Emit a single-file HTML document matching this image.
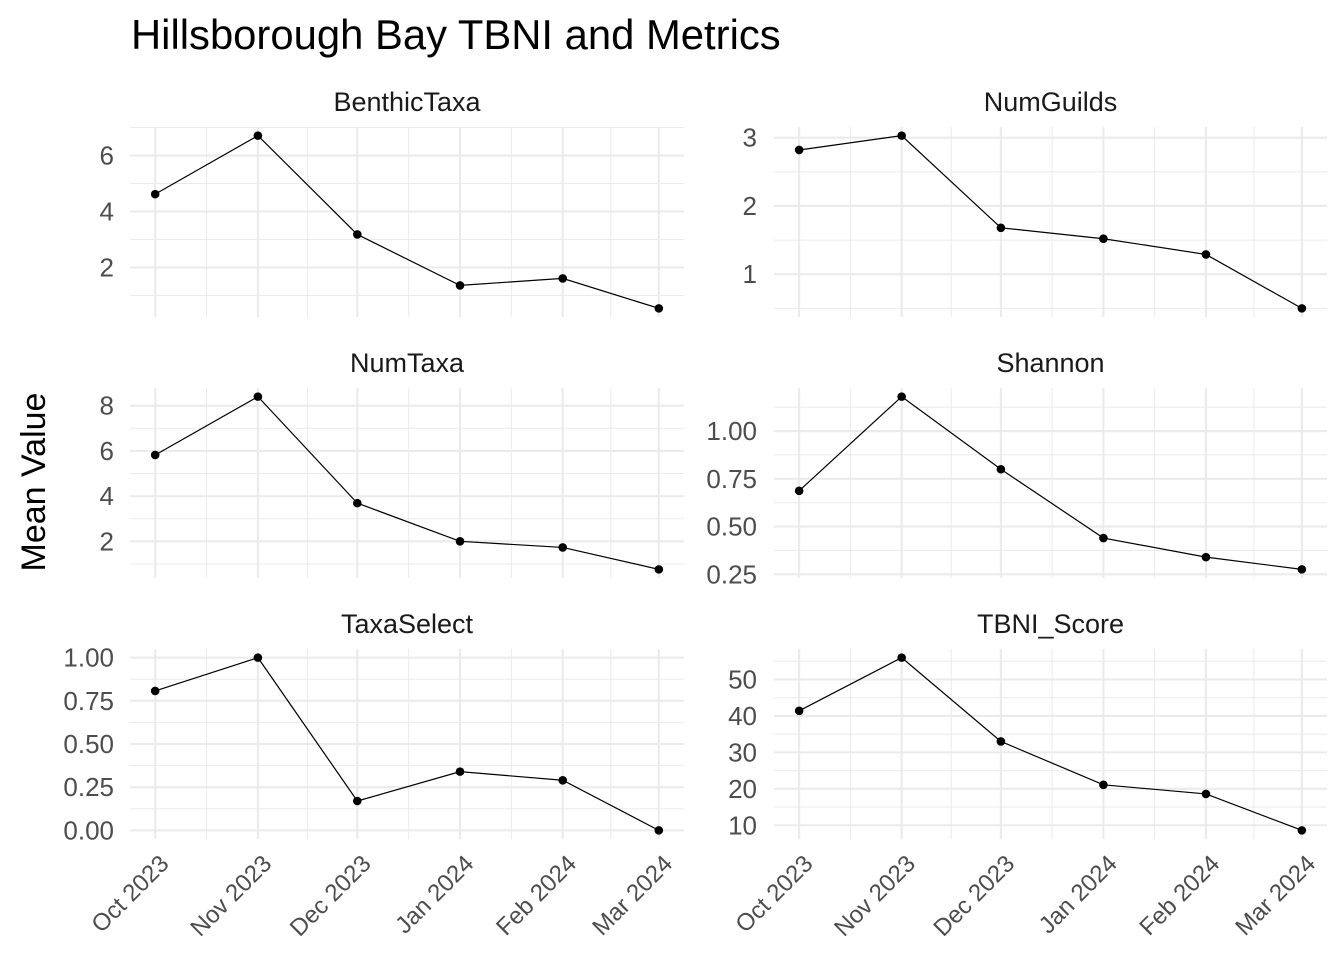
<!DOCTYPE html>
<html><head><meta charset="utf-8"><style>
body{margin:0;background:#fff}
svg text{font-family:"Liberation Sans",Arial,sans-serif}
</style></head><body>
<svg id="chart" width="1344" height="960" xmlns="http://www.w3.org/2000/svg">
<rect width="1344" height="960" fill="#fff"/>
<text x="131" y="49" font-size="41.8" fill="#000">Hillsborough Bay TBNI and Metrics</text>
<text transform="translate(45,482) rotate(-90)" text-anchor="middle" font-size="34" fill="#000">Mean Value</text>
</svg>
<script>
const months = ["Oct 2023","Nov 2023","Dec 2023","Jan 2024","Feb 2024","Mar 2024"];
const monthDays = [0,31,61,92,123,152];
const metrics = ["BenthicTaxa","NumGuilds","NumTaxa","Shannon","TaxaSelect","TBNI_Score"];
const benthicTaxa = [4.62,6.71,3.18,1.36,1.61,0.54];
const numGuilds = [2.82,3.03,1.68,1.52,1.29,0.5];
const numTaxa = [5.82,8.4,3.69,2.0,1.73,0.76];
const shannon = [0.687,1.18,0.80,0.44,0.34,0.276];
const taxaSelect = [0.807,1.0,0.17,0.34,0.29,0.0];
const tbniScore = [41.4,56.0,33.0,21.1,18.6,8.6];
const tickBenthic = [2,4,6];
const tickGuilds = [1,2,3];
const tickTaxa = [2,4,6,8];
const tickShannon = [0.25,0.5,0.75,1.0];
const tickSelect = [0,0.25,0.5,0.75,1.0];
const tickTbni = [10,20,30,40,50];
const labShannon = ["0.25","0.50","0.75","1.00"];
const labSelect = ["0.00","0.25","0.50","0.75","1.00"];

const series=[benthicTaxa,numGuilds,numTaxa,shannon,taxaSelect,tbniScore];
const ticks=[tickBenthic,tickGuilds,tickTaxa,tickShannon,tickSelect,tickTbni];
const labs=[null,null,null,labShannon,labSelect,null];
const svg=document.getElementById('chart');
const NS='http://www.w3.org/2000/svg';
function mk(tag,attrs,parent){const e=document.createElementNS(NS,tag);for(const k in attrs)e.setAttribute(k,attrs[k]);(parent||svg).appendChild(e);return e;}
const panelsX=[[130,684],[774,1327]];
const panelsY=[[127,317],[388,578],[649,839]];
for(let p=0;p<6;p++){
  const col=p%2,row=Math.floor(p/2);
  const [x0,x1]=panelsX[col],[y0,y1]=panelsY[row];
  const g=mk('g',{});
  
  
  const d0=0,d1=152,dx=(d1-d0)*0.05;
  const xs=v=>x0+(v-(d0-dx))/((d1+dx)-(d0-dx))*(x1-x0);
  const data=series[p];
  let mn=Math.min(...data),mx=Math.max(...data);const pad=(mx-mn)*0.05;mn-=pad;mx+=pad;
  const ys=v=>y1-(v-mn)/(mx-mn)*(y1-y0);
  const tk=ticks[p];const step=tk[1]-tk[0];
  for(let v=tk[0]-step/2;v<=mx;v+=step){if(v>=mn){const l=mk('line',{x1:x0,x2:x1,y1:ys(v),y2:ys(v),stroke:'#ebebeb','stroke-width':1},g);}}
  for(let i=0;i<monthDays.length-1;i++){const v=(monthDays[i]+monthDays[i+1])/2;const l=mk('line',{x1:xs(v),x2:xs(v),y1:y0,y2:y1,stroke:'#ebebeb','stroke-width':1},g);}
  tk.forEach((v,i)=>{const y=ys(v);const l=mk('line',{x1:x0,x2:x1,y1:y,y2:y,stroke:'#ebebeb','stroke-width':2.1},g);
    const t=mk('text',{x:(col?757:114),y:y+9,'text-anchor':'end','font-size':26,fill:'#4d4d4d'},g);t.textContent=labs[p]?labs[p][i]:String(v);});
  monthDays.forEach((v,i)=>{const x=xs(v);const l=mk('line',{x1:x,x2:x,y1:y0,y2:y1,stroke:'#ebebeb','stroke-width':2.1},g);
    if(row===2){const t=mk('text',{transform:`translate(${x+15},${y1+26}) rotate(-45)`,'text-anchor':'end','font-size':24,fill:'#4d4d4d'},g);t.textContent=months[i];}});
  const st=mk('text',{x:(x0+x1)/2,y:y0-16,'text-anchor':'middle','font-size':27,fill:'#1a1a1a'},g);st.textContent=metrics[p];
  
  const pts=data.map((v,i)=>xs(monthDays[i])+','+ys(v)).join(' ');
  const pl=mk('polyline',{points:pts,fill:'none',stroke:'#000','stroke-width':1.2},g);
  
  data.forEach((v,i)=>{const c=mk('circle',{cx:xs(monthDays[i]),cy:ys(v),r:4.3,fill:'#000'},g);
    });
}
</script>
</body></html>
